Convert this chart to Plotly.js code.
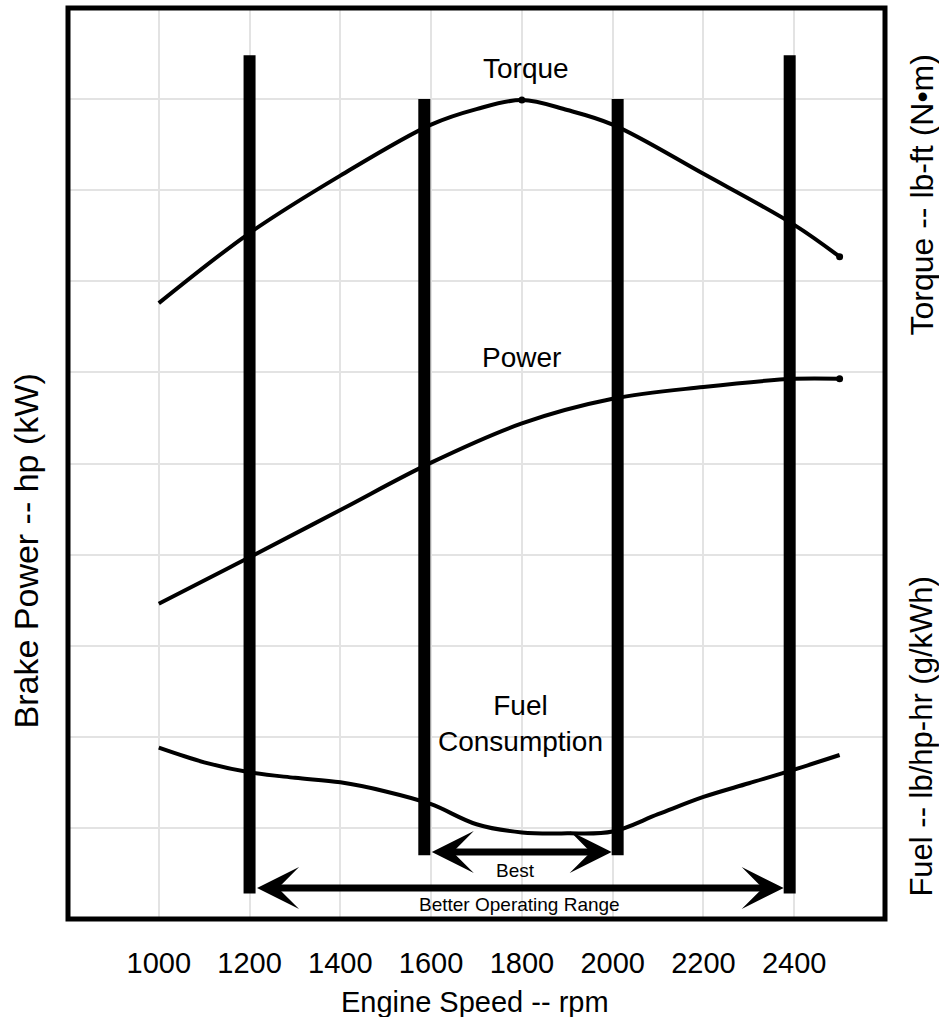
<!DOCTYPE html>
<html><head><meta charset="utf-8">
<script src="https://cdn.plot.ly/plotly-3.0.1.min.js"></script>
<style>html,body{margin:0;padding:0;background:#fff}</style>
</head><body><div id="chart" style="width:939px;height:1017px"></div>
<script>
// ---- data ----
const rpmTicks = [1000, 1200, 1400, 1600, 1800, 2000, 2200, 2400];
const rpmTickText = ['1000', '1200', '1400', '1600', '1800', '2000', '2200', '2400'];

const torqueRpm = [1000, 1200, 1400, 1600, 1700, 1800, 1900, 2000, 2200, 2400, 2500];
const torqueVal = [6.76, 7.53, 8.16, 8.72, 8.89, 8.99, 8.88, 8.72, 8.18, 7.62, 7.27];

const powerRpm = [1000, 1200, 1400, 1600, 1800, 2000, 2200, 2400, 2500];
const powerVal = [3.46, 3.97, 4.49, 5.01, 5.44, 5.71, 5.84, 5.93, 5.93];

const fuelRpm = [1000, 1100, 1200, 1300, 1400, 1500, 1600, 1700, 1800, 1900, 2000, 2100, 2200, 2300, 2400, 2500];
const fuelVal = [1.88, 1.72, 1.61, 1.55, 1.50, 1.40, 1.26, 1.04, 0.95, 0.94, 0.96, 1.15, 1.34, 1.49, 1.64, 1.80];

// operating-range limit bars (rpm) and their vertical extent
const betterLimits = [1200, 2390];
const betterBarSpan = [0.28, 9.48];
const bestLimits = [1585, 2011];
const bestBarSpan = [0.70, 9.00];
const bestArrowY = 0.735;
const betterArrowY = 0.34;

// ---- build ----
const FONT = '"Liberation Sans", Arial, Helvetica, sans-serif';

function bars(limits, span) {
  const pts = [];
  limits.forEach(r => { pts.push({x: r, y: span[0]}, {x: r, y: span[1]}, {x: null, y: null}); });
  return pts;
}
const bBetter = bars(betterLimits, betterBarSpan);
const bBest = bars(bestLimits, bestBarSpan);

const traces = [
  {x: torqueRpm, y: torqueVal, mode: 'lines', line: {color: '#000', width: 4, shape: 'spline', smoothing: 1}, name: 'Torque'},
  {x: powerRpm, y: powerVal, mode: 'lines', line: {color: '#000', width: 4, shape: 'spline', smoothing: 1}, name: 'Power'},
  {x: fuelRpm, y: fuelVal, mode: 'lines', line: {color: '#000', width: 4, shape: 'spline', smoothing: 1}, name: 'Fuel Consumption'},
  {x: [torqueRpm[5], torqueRpm[torqueRpm.length - 1], powerRpm[powerRpm.length - 1]],
   y: [torqueVal[5], torqueVal[torqueVal.length - 1], powerVal[powerVal.length - 1]],
   mode: 'markers', marker: {color: '#000', size: 7}, name: 'points'},
  {x: bBetter.map(p => p.x), y: bBetter.map(p => p.y), mode: 'lines', line: {color: '#000', width: 12}, connectgaps: false, name: 'Better range limits'},
  {x: bBest.map(p => p.x), y: bBest.map(p => p.y), mode: 'lines', line: {color: '#000', width: 12}, connectgaps: false, name: 'Best range limits'}
];

const arrowCommon = {
  xref: 'x', yref: 'y', axref: 'x', ayref: 'y', text: '', showarrow: true,
  arrowhead: 3, startarrowhead: 3, arrowside: 'end+start',
  arrowwidth: 7, arrowsize: 1.0, startarrowsize: 1.0, arrowcolor: '#000',
  standoff: 6, startstandoff: 6
};

const annotations = [
  Object.assign({}, arrowCommon, {x: bestLimits[1], y: bestArrowY, ax: bestLimits[0], ay: bestArrowY}),
  Object.assign({}, arrowCommon, {x: betterLimits[1], y: betterArrowY, ax: betterLimits[0], ay: betterArrowY}),
  {xref: 'x', yref: 'y', x: (bestLimits[0] + bestLimits[1]) / 2 - 12, y: bestArrowY - 0.2, text: 'Best', showarrow: false,
   font: {family: FONT, size: 19, color: '#000'}, yanchor: 'middle'},
  {xref: 'x', yref: 'y', x: (betterLimits[0] + betterLimits[1]) / 2, y: betterArrowY - 0.18, text: 'Better Operating Range', showarrow: false,
   font: {family: FONT, size: 19, color: '#000'}, yanchor: 'middle'},
  {xref: 'x', yref: 'y', x: 1810, y: 9.34, text: 'Torque', showarrow: false, font: {family: FONT, size: 28, color: '#000'}},
  {xref: 'x', yref: 'y', x: 1800, y: 6.16, text: 'Power', showarrow: false, font: {family: FONT, size: 28, color: '#000'}},
  {xref: 'x', yref: 'y', x: 1797, y: 2.15, text: 'Fuel<br>Consumption', showarrow: false, font: {family: FONT, size: 28, color: '#000'}},
  {xref: 'paper', yref: 'paper', x: -0.052, y: 0.404, text: 'Brake Power -- hp (kW)', textangle: -90, showarrow: false,
   font: {family: FONT, size: 34, color: '#000'}, xanchor: 'center', yanchor: 'middle'},
  {xref: 'paper', yref: 'paper', x: 1.045, y: 0.795, text: 'Torque -- lb-ft (N•m)', textangle: -90, showarrow: false,
   font: {family: FONT, size: 32, color: '#000'}, xanchor: 'center', yanchor: 'middle'},
  {xref: 'paper', yref: 'paper', x: 1.045, y: 0.20, text: 'Fuel -- lb/hp-hr (g/kWh)', textangle: -90, showarrow: false,
   font: {family: FONT, size: 31, color: '#000'}, xanchor: 'center', yanchor: 'middle'},
  {xref: 'paper', yref: 'paper', x: 0.498, y: -0.091, text: 'Engine Speed -- rpm', showarrow: false,
   font: {family: FONT, size: 29, color: '#000'}, xanchor: 'center', yanchor: 'middle'}
];

const layout = {
  width: 939, height: 1017,
  margin: {l: 68, r: 54, t: 8, b: 98, pad: 0},
  paper_bgcolor: '#fff', plot_bgcolor: '#fff',
  showlegend: false,
  font: {family: FONT, color: '#000'},
  xaxis: {
    range: [800, 2600], tickvals: rpmTicks, ticktext: rpmTickText,
    showgrid: true, gridcolor: '#e3e3e3', gridwidth: 2, zeroline: false,
    ticks: '', ticklabelstandoff: 24, showline: false,
    tickfont: {family: FONT, size: 29, color: '#000'}
  },
  yaxis: {
    range: [0, 10], dtick: 1, showticklabels: false, showgrid: true,
    gridcolor: '#e3e3e3', gridwidth: 2, zeroline: false, ticks: '', showline: false
  },
  shapes: [
    {type: 'rect', xref: 'paper', yref: 'paper', x0: 0, x1: 1, y0: 0, y1: 1,
     line: {color: '#000', width: 5}, layer: 'above'}
  ],
  annotations: annotations
};

Plotly.newPlot('chart', traces, layout, {displayModeBar: false, staticPlot: true});
</script>
</body></html>
